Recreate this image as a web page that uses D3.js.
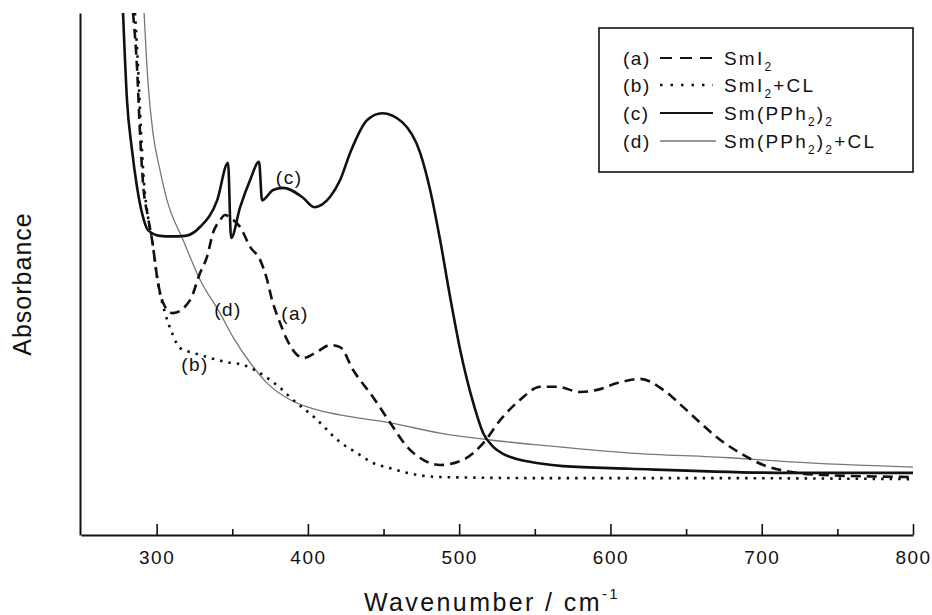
<!DOCTYPE html>
<html><head><meta charset="utf-8">
<script src="https://cdn.jsdelivr.net/npm/d3@7"></script>
<style>
body{margin:0;background:#fff}
svg{display:block}
text{font-family:"Liberation Sans",Arial,Helvetica,sans-serif;fill:#111}
</style>
</head><body><svg id="chart" width="932" height="615"></svg>
<script>
// ---- data ----
const xTicks = [300, 400, 500, 600, 700, 800];
const xMinorTicks = [350, 450, 550, 650, 750];
const seriesKeys = ["(a)", "(b)", "(c)", "(d)"];
const legendLabels = ["SmI_2", "SmI_2+CL", "Sm(PPh_2)_2", "Sm(PPh_2)_2+CL"];

// (a) SmI2 — dashed
const wnA = [284.4, 287.0, 289.0, 291.0, 294.3, 297.0, 300.9, 305.6, 310.8, 322.1, 328.7, 333.3, 337.3, 341.9, 345.2, 350.0, 355.2, 361.8, 368.4, 373.0, 376.3, 381.6, 386.2, 392.9, 396.8, 406.1, 414.7, 421.3, 429.9, 443.1, 454.4, 465.6, 476.2, 487.4, 502.6, 515.9, 527.1, 540.3, 553.6, 564.8, 580.0, 591.3, 604.5, 619.7, 634.9, 648.1, 659.4, 672.6, 685.8, 701.1, 718.9, 740, 800];
const absA = [100, 89.7, 77.0, 67.4, 60.9, 56.5, 48.3, 43.7, 42.5, 45.0, 50.2, 53.3, 57.9, 60.3, 61.3, 60.5, 59.0, 55.2, 52.7, 48.9, 45.0, 40.6, 37.4, 34.5, 33.9, 35.1, 36.4, 36.0, 31.6, 26.4, 21.5, 16.9, 14.4, 13.4, 14.4, 17.6, 22.0, 25.9, 28.4, 28.4, 27.4, 27.8, 29.1, 29.9, 27.8, 24.5, 21.5, 18.2, 15.7, 13.4, 12.1, 11.5, 11.1];

// (b) SmI2 + CL — dotted
const wnB = [285.7, 287.7, 289.7, 291.7, 294.3, 297.0, 300.9, 305.6, 310.2, 315.5, 324.1, 333.3, 346.5, 357.1, 368.4, 375.0, 381.6, 388.2, 404.8, 421.3, 432.5, 443.1, 454.4, 465.6, 487.4, 553.6, 659.4, 800];
const absB = [100, 89.7, 77.0, 67.4, 60.9, 56.5, 48.3, 42.5, 38.7, 35.8, 34.9, 34.1, 33.1, 32.6, 31.0, 29.7, 28.2, 26.4, 22.4, 17.8, 15.7, 13.8, 12.8, 11.9, 11.1, 10.9, 10.9, 10.7];

// (c) Sm(PPh2)2 — solid
const wnC = [277.8, 280.4, 283.7, 287.0, 290.3, 294.3, 302.2, 310.0, 318.8, 328.7, 340.0, 347.2, 349.2, 355.2, 361.8, 367.7, 369.7, 377.0, 383.6, 396.8, 404.1, 414.7, 421.3, 427.9, 439.2, 449.1, 462.3, 474.2, 480.8, 487.4, 494.0, 500.7, 509.3, 515.9, 522.5, 530.0, 540.0, 553.6, 568.8, 613.0, 718.9, 800];
const absC = [100, 83.3, 73.8, 66.7, 61.7, 58.4, 57.3, 57.2, 57.3, 59.0, 64.1, 71.3, 56.9, 62.8, 68.0, 71.5, 64.1, 66.1, 66.5, 64.6, 62.8, 64.8, 68.0, 73.2, 79.5, 80.8, 79.1, 73.2, 66.1, 56.5, 45.6, 35.4, 25.3, 19.5, 16.9, 15.4, 14.4, 13.7, 13.2, 12.7, 11.9, 11.9];

// (d) Sm(PPh2)2 + CL — thin grey
const wnD = [291.7, 294.3, 297.6, 302.2, 306.9, 317.5, 328.7, 341.9, 350.5, 361.8, 373.0, 388.2, 400, 421.3, 454.4, 487.4, 520.5, 553.6, 613.1, 679.2, 718.9, 800];
const absD = [100, 86.6, 77.0, 69.9, 64.1, 56.5, 48.9, 42.5, 37.9, 33.0, 29.1, 25.9, 24.5, 23.0, 21.5, 19.5, 18.2, 17.2, 15.7, 14.8, 14.0, 13.0];

// in-plot curve labels (data units)
const labelWn  = [391.5, 325.4, 387.6, 347.2];
const labelAbs = [41.2, 31.4, 67.2, 42.0];

// ---- drawing ----
const svg = d3.select("#chart");
const x = d3.scaleLinear().domain([250, 800]).range([81, 913]);
const y = d3.scaleLinear().domain([0, 100]).range([535, 13]);

const styles = [
  {stroke: "#111", width: 2.6, dash: "10,6"},
  {stroke: "#111", width: 2.6, dash: "2.5,6"},
  {stroke: "#111", width: 2.6, dash: null},
  {stroke: "#777", width: 1.3, dash: null}
];
const series = [[wnA, absA], [wnB, absB], [wnC, absC], [wnD, absD]]
  .map(([w, a]) => w.map((v, i) => [v, a[i]]));

svg.append("clipPath").attr("id", "clip").append("rect")
  .attr("x", x(250)).attr("y", y(100) - 1)
  .attr("width", x(800) - x(250)).attr("height", y(0) - y(100) + 1);

const line = d3.line().x(d => x(d[0])).y(d => y(d[1])).curve(d3.curveMonotoneX);
const g = svg.append("g").attr("clip-path", "url(#clip)");
[3, 1, 0, 2].forEach(i => {
  g.append("path").datum(series[i])
    .attr("fill", "none")
    .attr("stroke", styles[i].stroke)
    .attr("stroke-width", styles[i].width)
    .attr("stroke-dasharray", styles[i].dash)
    .attr("stroke-linejoin", "round")
    .attr("d", line);
});

// axes
const xAxis = svg.append("g").attr("transform", `translate(0,${y(0)})`)
  .call(d3.axisBottom(x).tickValues(xTicks).tickSize(-11).tickSizeOuter(0)
    .tickPadding(16).tickFormat(d3.format("d")));
xAxis.select(".domain").attr("stroke", "#111").attr("stroke-width", 2);
xAxis.selectAll(".tick line").attr("stroke", "#111").attr("stroke-width", 1.6);
xAxis.selectAll(".tick text").attr("font-size", 19).attr("letter-spacing", "1.5px")
  .attr("fill", "#111").style("font-family", '"Liberation Sans",Arial,sans-serif');

const xMinor = svg.append("g").attr("transform", `translate(0,${y(0)})`)
  .call(d3.axisBottom(x).tickValues(xMinorTicks).tickSize(-6).tickSizeOuter(0).tickFormat(""));
xMinor.select(".domain").remove();
xMinor.selectAll(".tick text").remove();
xMinor.selectAll(".tick line").attr("stroke", "#111").attr("stroke-width", 1.6);

const yAxis = svg.append("g").attr("transform", `translate(${x(250) - 1},0)`)
  .call(d3.axisLeft(y).tickValues([]).tickSizeOuter(0));
yAxis.select(".domain").attr("stroke", "#111").attr("stroke-width", 2);

// axis titles
const xt = svg.append("text").attr("x", 492).attr("y", 611)
  .attr("text-anchor", "middle").attr("font-size", 25).attr("letter-spacing", "2.4px");
xt.append("tspan").text("Wavenumber / cm");
xt.append("tspan").attr("font-size", 15).attr("dy", -12).text("-1");

svg.append("text").attr("transform", "translate(31,284) rotate(-90)")
  .attr("text-anchor", "middle").attr("font-size", 25).attr("letter-spacing", "1px")
  .text("Absorbance");

// curve labels
seriesKeys.forEach((k, i) => {
  svg.append("text").attr("x", x(labelWn[i])).attr("y", y(labelAbs[i]))
    .attr("text-anchor", "middle").attr("font-size", 19).attr("letter-spacing", "1.5px")
    .text(k);
});

// legend
const lg = svg.append("g");
lg.append("rect").attr("x", 599).attr("y", 28).attr("width", 314).attr("height", 144)
  .attr("fill", "#fff").attr("stroke", "#111").attr("stroke-width", 1.6);
const rowY = [65, 92, 120, 148];
seriesKeys.forEach((k, i) => {
  lg.append("text").attr("x", 623).attr("y", rowY[i]).attr("font-size", 19)
    .attr("letter-spacing", "1.5px").text(k);
  const ly = rowY[i] - 7;
  lg.append("line").attr("x1", 660).attr("x2", i === 3 ? 716 : 713)
    .attr("y1", ly).attr("y2", ly)
    .attr("stroke", styles[i].stroke)
    .attr("stroke-width", i === 3 ? 1.3 : (i === 1 ? 2.6 : 2.2))
    .attr("stroke-dasharray", i === 0 ? "12,8" : (i === 1 ? "2.5,8" : null));
  const t = lg.append("text").attr("x", 724).attr("y", rowY[i]).attr("font-size", 19)
    .attr("letter-spacing", "2.2px");
  const parts = legendLabels[i].split(/(_\d)/).filter(s => s.length);
  let shift = 0;
  parts.forEach(part => {
    if (part.startsWith("_")) {
      t.append("tspan").attr("font-size", 12).attr("dy", 6 - shift).text(part.slice(1));
      shift = 6;
    } else {
      t.append("tspan").attr("dy", -shift).text(part);
      shift = 0;
    }
  });
});
</script>
</body></html>
